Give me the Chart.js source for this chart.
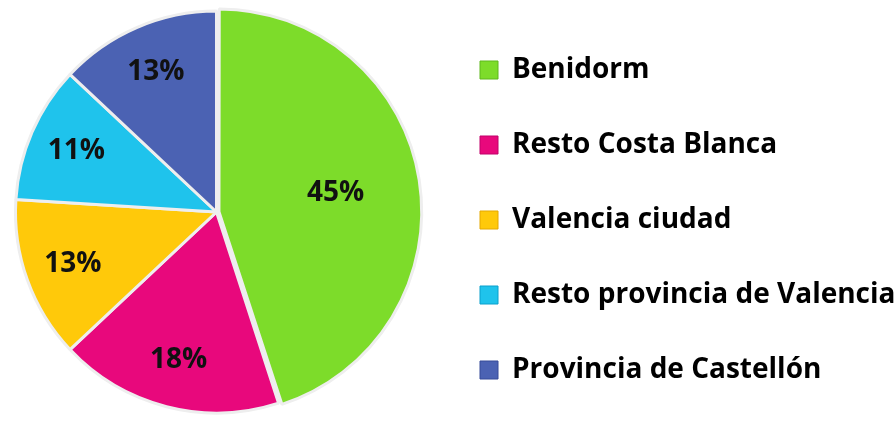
<!DOCTYPE html>
<html>
<head>
<meta charset="utf-8">
<script src="https://cdn.jsdelivr.net/npm/chart.js@4/dist/chart.umd.min.js"></script>
<style>
  html, body { margin: 0; padding: 0; background: #fff; }
  #wrap { width: 894px; height: 424px; position: relative; }
</style>
</head>
<body>
<div id="wrap"><canvas id="c"></canvas></div>
<script>
// Destinos: share of total (%)
const categories = ['Benidorm', 'Resto Costa Blanca', 'Valencia ciudad', 'Resto provincia de Valencia', 'Provincia de Castellón'];
const shares = [45, 18, 13, 11, 13];
const sliceColors = ['#7ddc2a', '#e8087c', '#ffc90a', '#1fc3ec', '#4b62b3'];
const sliceEdges = ['#5fb81c', '#c0006a', '#e5a800', '#0aa0cc', '#364a98'];
const explode = [10, 0, 0, 0, 0];

const FONT = '"Open Sans", Lato, sans-serif';

// radial shading so slices look a bit bevelled, like the office chart
function shade(ctx) {
  const chart = ctx.chart;
  const arc = ctx.element;
  if (!arc || !chart.chartArea || !arc.outerRadius) return sliceColors[ctx.dataIndex];
  const g = chart.ctx.createRadialGradient(arc.x, arc.y, 0, arc.x, arc.y, arc.outerRadius);
  g.addColorStop(0, sliceColors[ctx.dataIndex]);
  g.addColorStop(0.9, sliceColors[ctx.dataIndex]);
  g.addColorStop(1, sliceEdges[ctx.dataIndex]);
  return g;
}

// percent labels drawn inside each arc
const pctLabels = {
  id: 'pctLabels',
  afterDatasetsDraw(chart) {
    const { ctx } = chart;
    const meta = chart.getDatasetMeta(0);
    ctx.save();
    ctx.font = 'bold 28px ' + FONT;
    ctx.fillStyle = '#111';
    ctx.textAlign = 'center';
    ctx.textBaseline = 'middle';
    meta.data.forEach((arc, i) => {
      const p = arc.getProps(['x', 'y', 'startAngle', 'endAngle', 'outerRadius']);
      const mid = (p.startAngle + p.endAngle) / 2;
      const r = p.outerRadius * (shares[i] > 30 ? 0.6 : 0.76);
      ctx.fillText(shares[i] + '%', p.x + Math.cos(mid) * r, p.y + Math.sin(mid) * r);
    });
    ctx.restore();
  }
};

// legend box is capped at half the width; let it run to the canvas edge so long labels aren't clipped
const legendToEdge = {
  id: 'legendToEdge',
  afterLayout(chart) {
    const lg = chart.legend;
    if (!lg) return;
    lg.right = chart.width;
    lg.width = lg.right - lg.left;
  }
};

new Chart(document.getElementById('c'), {
  type: 'pie',
  data: {
    labels: categories,
    datasets: [{
      data: shares,
      backgroundColor: shade,
      borderColor: '#eeeeee',
      borderWidth: 3,
      offset: explode,
      radius: 201,
    }]
  },
  options: {
    responsive: true,
    maintainAspectRatio: false,
    animation: false,
    layout: { padding: { top: -4, bottom: -7, left: -7, right: 21 } },
    plugins: {
      tooltip: { enabled: false },
      legend: {
        position: 'right',
        align: 'end',
        labels: {
          color: '#111',
          font: { family: FONT, size: 28, weight: 'bold' },
          boxWidth: 18,
          boxHeight: 18,
          padding: 47,
          generateLabels(chart) {
            return categories.map((text, i) => ({
              text,
              fillStyle: sliceColors[i],
              strokeStyle: sliceEdges[i],
              lineWidth: 1,
              index: i,
              hidden: false,
            }));
          }
        }
      }
    }
  },
  plugins: [pctLabels, legendToEdge]
});
</script>
</body>
</html>
